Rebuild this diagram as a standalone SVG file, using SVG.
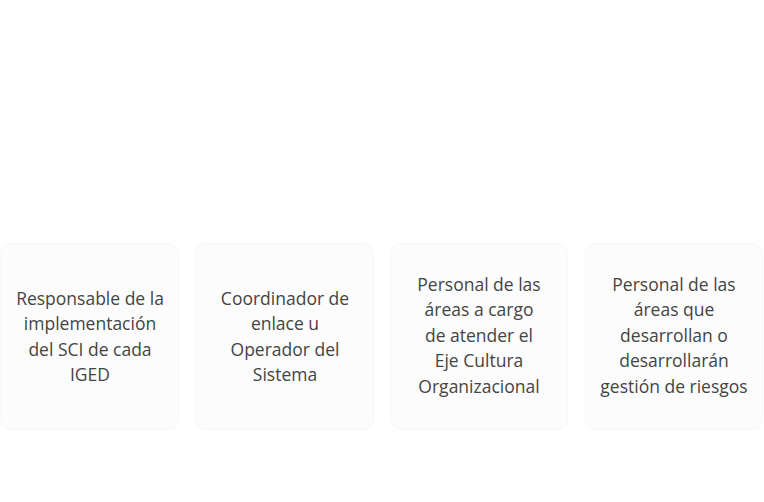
<svg xmlns="http://www.w3.org/2000/svg" width="764" height="502" viewBox="0 0 764 502">
<style>
.box{fill:#fcfcfc;stroke:#f7f7f7;stroke-width:1}
.t{font-family:"Open Sans","Noto Sans",sans-serif;font-size:17.5px;fill:#444444;text-anchor:middle}
</style>
<rect width="764" height="502" fill="#ffffff"/>
<g id="connectors"></g>
<g id="node1">
<rect class="box" x="0.5" y="243.5" width="178" height="186" rx="10"/>
<text class="t" x="90" y="304.5">Responsable de la</text>
<text class="t" x="90" y="330">implementación</text>
<text class="t" x="90" y="355.5">del SCI de cada</text>
<text class="t" x="90" y="381">IGED</text>
</g>
<g id="node2">
<rect class="box" x="195.5" y="243.5" width="178" height="186" rx="10"/>
<text class="t" x="285" y="304.5">Coordinador de</text>
<text class="t" x="285" y="330">enlace u</text>
<text class="t" x="285" y="355.5">Operador del</text>
<text class="t" x="285" y="381">Sistema</text>
</g>
<g id="node3">
<rect class="box" x="390.5" y="243.5" width="177" height="186" rx="10"/>
<text class="t" x="479" y="290.5">Personal de las</text>
<text class="t" x="479" y="316">áreas a cargo</text>
<text class="t" x="479" y="341.5">de atender el</text>
<text class="t" x="479" y="367">Eje Cultura</text>
<text class="t" x="479" y="392.5">Organizacional</text>
</g>
<g id="node4">
<rect class="box" x="585.5" y="243.5" width="177" height="186" rx="10"/>
<text class="t" x="674" y="290.5">Personal de las</text>
<text class="t" x="674" y="316">áreas que</text>
<text class="t" x="674" y="341.5">desarrollan o</text>
<text class="t" x="674" y="367">desarrollarán</text>
<text class="t" x="674" y="392.5">gestión de riesgos</text>
</g>
</svg>
